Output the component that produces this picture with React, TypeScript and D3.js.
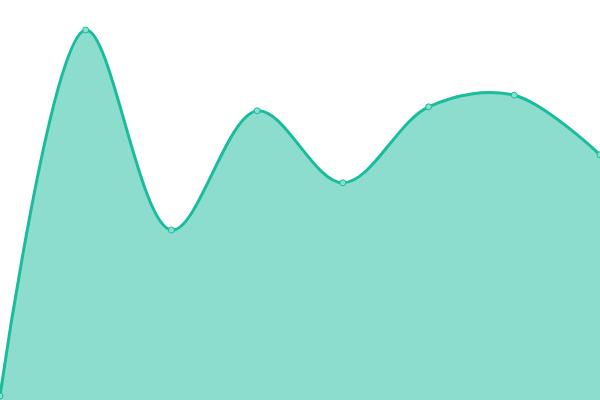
import React from 'react';
import * as d3 from 'd3';

const labels = ['A', 'B', 'C', 'D', 'E', 'F', 'G', 'H'];
const values = [1, 92.5, 42.5, 72.3, 54.3, 73.3, 76.2, 61.3];

const W = 600;
const H = 400;

export default function App() {
  const x = d3.scalePoint<string>().domain(labels).range([0, W]);
  const y = d3.scaleLinear().domain([0, 100]).range([H, 0]);

  const area = d3.area<number>()
    .x((_, i) => x(labels[i]) as number)
    .y0(y(0))
    .y1(d => y(d))
    .curve(d3.curveCatmullRom.alpha(0.5));

  const line = d3.line<number>()
    .x((_, i) => x(labels[i]) as number)
    .y(d => y(d))
    .curve(d3.curveCatmullRom.alpha(0.5));

  return (
    <svg width={W} height={H} style={{ position: 'fixed', left: 0, top: 0, background: '#fff' }}>
      <path d={area(values) || ''} fill="rgba(26,188,156,0.5)" />
      <path d={line(values) || ''} fill="none" stroke="#1abc9c" strokeWidth={3} />
      {values.map((v, i) => (
        <circle
          key={labels[i]}
          cx={x(labels[i])}
          cy={y(v)}
          r={3}
          fill="#8ae0cf"
          stroke="#1abc9c"
          strokeWidth={1}
        />
      ))}
    </svg>
  );
}
